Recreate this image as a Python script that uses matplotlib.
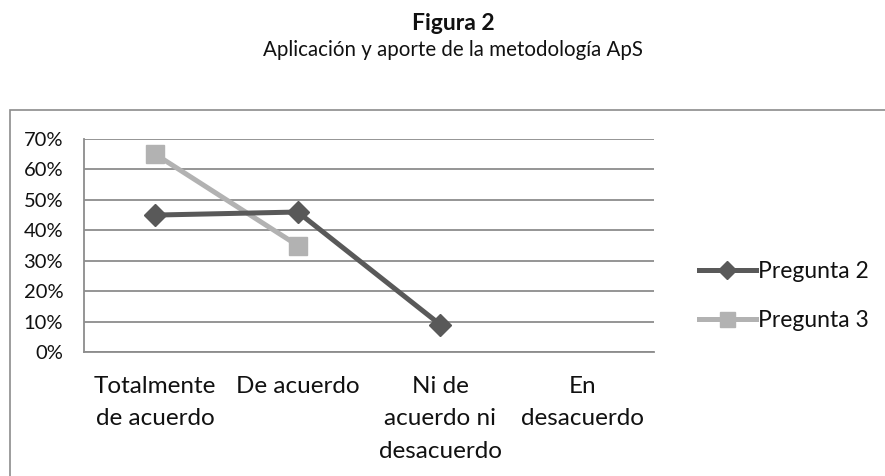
import matplotlib.pyplot as plt
import numpy as np
from matplotlib.patches import Rectangle

categories = ["Totalmente\nde acuerdo", "De acuerdo", "Ni de\nacuerdo ni\ndesacuerdo", "En\ndesacuerdo"]
pregunta2 = [45, 46, 9, np.nan]
pregunta3 = [65, 35, np.nan, np.nan]
yticks = [0, 10, 20, 30, 40, 50, 60, 70]

plt.rcParams["font.family"] = ["Lato", "DejaVu Sans"]

W, H = 885, 476
fig = plt.figure(figsize=(W / 100, H / 100), dpi=100)

# outer chart frame (only left and top edges visible)
fig.patches.append(
    Rectangle((10 / W, -0.1), 1.2, 1.1 - 110 / H, transform=fig.transFigure,
              fill=False, edgecolor="#8c8c8c", linewidth=1.2)
)

fig.text(453 / W, 1 - 24 / H, "Figura 2", ha="center", va="center",
         fontsize=16.5, fontweight="bold", color="#111111")
fig.text(453 / W, 1 - 50 / H, "Aplicación y aporte de la metodología ApS",
         ha="center", va="center", fontsize=14.8, color="#111111")

left, right, top, bottom = 84, 654, 139, 352
ax = fig.add_axes([left / W, 1 - bottom / H, (right - left) / W, (bottom - top) / H])

x = np.arange(len(categories))
ax.plot(x, pregunta2, color="#595959", linewidth=3.6, marker="D", markersize=11.5,
        label="Pregunta 2", zorder=3)
ax.plot(x, pregunta3, color="#b2b2b2", linewidth=3.6, marker="s", markersize=13.5,
        label="Pregunta 3", zorder=2)

ax.set_xlim(-0.5, len(categories) - 0.5)
ax.set_ylim(0, 70)
ax.set_yticks(yticks)
ax.set_yticklabels([f"{v}%" for v in yticks], fontsize=14.5, color="#111111")
ax.set_xticks(x)
ax.set_xticklabels(categories, fontsize=17.5, va="top", linespacing=1.68,
                   color="#111111")
ax.tick_params(axis="x", length=0, pad=17)
ax.tick_params(axis="y", length=0, pad=15)
ax.grid(axis="y", color="#8c8c8c", linewidth=1.3)
ax.set_axisbelow(True)
for side in ["top", "right"]:
    ax.spines[side].set_visible(False)
for side in ["left", "bottom"]:
    ax.spines[side].set_color("#8c8c8c")
    ax.spines[side].set_linewidth(1.3)

leg = ax.legend(loc="center left", bbox_to_anchor=(678 / W, 1 - 296 / H),
                bbox_transform=fig.transFigure, frameon=False, fontsize=16.5,
                handlelength=2.5, handletextpad=0.1, labelspacing=1.2,
                markerscale=0.8)
for t in leg.get_texts():
    t.set_color("#111111")

fig.savefig("out.png", dpi=100, facecolor="white")
